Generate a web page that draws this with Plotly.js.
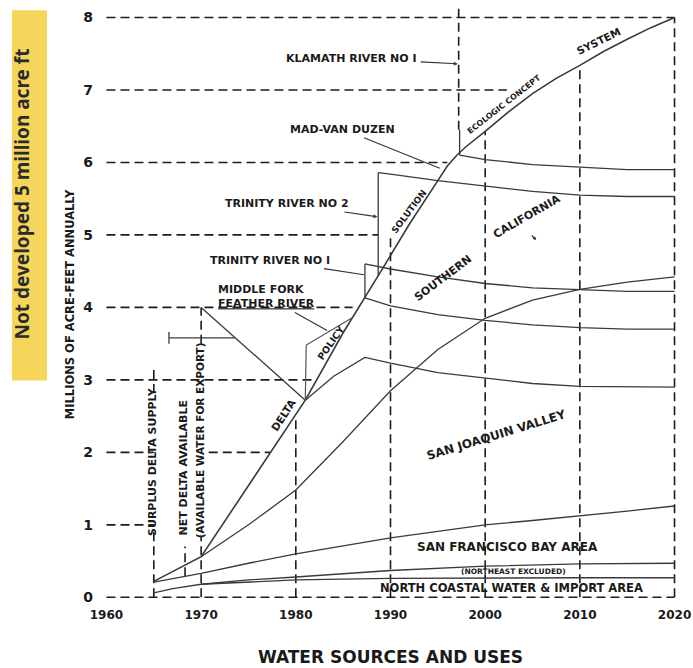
<!DOCTYPE html>
<html><head><meta charset="utf-8">
<script src="https://cdn.plot.ly/plotly-3.0.1.min.js"></script>
<style>html,body{margin:0;padding:0;background:#fff}#chart{width:693px;height:668px}</style>
</head><body><div id="chart"></div>
<script>
// ---- tick labels ----
const xTickYears = [1960, 1970, 1980, 1990, 2000, 2010, 2020];
const yTickValues = [0, 1, 2, 3, 4, 5, 6, 7, 8];

// ---- main envelope: Delta / Policy / Solution / Ecologic concept / System ----
const mainYears = [1965, 1970, 1981, 1985, 1989, 1992, 1995, 1996, 1997, 1998, 2000, 2002.5, 2005, 2007.5, 2010, 2012.5, 2015, 2017.5, 2020];
const mainVals  = [0.22, 0.56, 2.72, 3.65, 4.5, 5.15, 5.75, 5.95, 6.1, 6.22, 6.43, 6.7, 6.95, 7.16, 7.34, 7.53, 7.7, 7.86, 8.0];

// ---- Southern California lower boundary (rising) ----
const socalYears = [1970, 1975, 1980, 1985, 1990, 1995, 2000, 2005, 2010, 2015, 2020];
const socalVals  = [0.56, 1.0, 1.48, 2.15, 2.85, 3.42, 3.85, 4.1, 4.25, 4.35, 4.42];

// ---- San Joaquin Valley upper boundary ----
const sjYears = [1981, 1984, 1987.3, 1990, 1995, 2000, 2005, 2010, 2015, 2020];
const sjVals  = [2.72, 3.05, 3.31, 3.23, 3.1, 3.02, 2.95, 2.91, 2.9, 2.9];

// ---- Middle Fork Feather River increment ----
const featherYears = [1987.3, 1990, 1995, 2000, 2005, 2010, 2015, 2020];
const featherVals  = [4.13, 4.02, 3.9, 3.82, 3.76, 3.72, 3.7, 3.7];
const featherDiagYears = [1970, 1981];
const featherDiagVals  = [4.0, 2.72];
const bracketYears = [1966.6, 1973.6];
const bracketVals  = [3.58, 3.58];
const bracketTickYears = [1966.6, 1966.6];
const bracketTickVals  = [3.5, 3.66];

// ---- Policy polygon ----
const policyYears = [1981, 1981.1, 1986];
const policyVals  = [2.72, 3.48, 3.86];

// ---- Trinity River No 1 ----
const trin1StepYears = [1987.3, 1987.3];
const trin1StepVals  = [4.13, 4.6];
const trin1Years = [1987.3, 1990, 1995, 2000, 2005, 2010, 2015, 2020];
const trin1Vals  = [4.6, 4.53, 4.42, 4.33, 4.27, 4.24, 4.22, 4.22];

// ---- Trinity River No 2 ----
const trin2StepYears = [1988.7, 1988.7];
const trin2StepVals  = [4.44, 5.86];
const trin2Years = [1988.7, 1990, 1995, 2000, 2005, 2010, 2015, 2020];
const trin2Vals  = [5.86, 5.84, 5.75, 5.67, 5.6, 5.55, 5.53, 5.53];

// ---- Klamath River No 1 ----
const klamStepYears = [1997.3, 1997.3];
const klamStepVals  = [6.1, 6.45];
const klamYears = [1997.3, 2000, 2005, 2010, 2015, 2020];
const klamVals  = [6.1, 6.04, 5.97, 5.93, 5.9, 5.9];

// ---- San Francisco Bay Area upper boundary ----
const sfYears = [1965, 1970, 1975, 1980, 1985, 1990, 1995, 2000, 2005, 2010, 2015, 2020];
const sfVals  = [0.21, 0.33, 0.47, 0.6, 0.71, 0.82, 0.91, 1.0, 1.06, 1.12, 1.19, 1.26];

// ---- excluded band / North Coastal ----
const exclTopYears = [1965, 1967, 1970, 1975, 1980, 1985, 1990, 2000, 2010, 2020];
const exclTopVals  = [0.06, 0.12, 0.18, 0.24, 0.28, 0.33, 0.37, 0.43, 0.46, 0.47];
const exclBotYears = [1970, 1975, 1980, 1990, 2000, 2010, 2020];
const exclBotVals  = [0.18, 0.21, 0.24, 0.26, 0.27, 0.27, 0.27];

// ---- dashed guide lines ----
const hGuideLevels = [8, 7, 6, 5, 4, 3, 2, 2, 1, 0];
const hGuideFrom   = [1960, 1960, 1960, 1960, 1960, 1960, 1960, 1970.8, 1960, 1960];
const hGuideTo     = [2020, 2002.3, 1996, 1988.7, 1986, 1982, 1965, 1977.3, 1965, 2020];
const vGuideYears  = [1965, 1965, 1968.3, 1970, 1970, 1980, 1990, 2000, 2010, 2020, 1997.2];
const vGuideFrom   = [0, 2.82, 0.29, 0, 3.5, 0, 0, 0, 0, 0, 6.45];
const vGuideTo     = [0.95, 3.2, 0.7, 0.85, 4.0, 2.5, 5.0, 6.43, 7.34, 8.0, 8.17];

// ---------------------------------------------------------------
const CURVE = '#3a3a3a';
const GUIDE = '#1c1c1c';
const FAM = 'DejaVu Sans, Liberation Sans, sans-serif';

function line(xs, ys, width, color, dash) {
  return {type: 'scatter', mode: 'lines', x: xs, y: ys,
    line: {color: color, width: width, dash: dash || 'solid'},
    hoverinfo: 'skip', showlegend: false};
}
function segs(keys, from, to, horizontal) {
  const xs = [], ys = [];
  for (let i = 0; i < keys.length; i++) {
    if (horizontal) { xs.push(from[i], to[i], null); ys.push(keys[i], keys[i], null); }
    else { xs.push(keys[i], keys[i], null); ys.push(from[i], to[i], null); }
  }
  return {xs, ys};
}
const hg = segs(hGuideLevels, hGuideFrom, hGuideTo, true);
const vg = segs(vGuideYears, vGuideFrom, vGuideTo, false);

const traces = [
  line(hg.xs, hg.ys, 1.6, GUIDE, '9px,5px'),
  line(vg.xs, vg.ys, 1.6, GUIDE, '9px,5px'),
  line(mainYears, mainVals, 1.6, CURVE),
  line(socalYears, socalVals, 1.3, CURVE),
  line(sjYears, sjVals, 1.3, CURVE),
  line(featherYears, featherVals, 1.3, CURVE),
  line(featherDiagYears, featherDiagVals, 1.3, CURVE),
  line(bracketYears, bracketVals, 1.3, CURVE),
  line(bracketTickYears, bracketTickVals, 1.3, CURVE),
  line(policyYears, policyVals, 1.2, '#555'),
  line(trin1StepYears, trin1StepVals, 1.3, CURVE),
  line(trin1Years, trin1Vals, 1.3, CURVE),
  line(trin2StepYears, trin2StepVals, 1.3, CURVE),
  line(trin2Years, trin2Vals, 1.3, CURVE),
  line(klamStepYears, klamStepVals, 1.3, CURVE),
  line(klamYears, klamVals, 1.3, CURVE),
  line(sfYears, sfVals, 1.3, CURVE),
  line(exclTopYears, exclTopVals, 1.3, CURVE),
  line(exclBotYears, exclBotVals, 1.3, CURVE)
];

function font(size, weight) { return {family: FAM, size: size, color: '#1a1a1a', weight: weight || 'bold'}; }
function lab(text, x, y, angle, size) {
  return {text: text, x: x, y: y, xref: 'x', yref: 'y', showarrow: false,
    textangle: angle || 0, font: font(size || 11), xanchor: 'center', yanchor: 'middle'};
}
function leader(text, x, y, ax, ay, head, size) {
  return {text: text, x: x, y: y, ax: ax, ay: ay, xref: 'x', yref: 'y', axref: 'x', ayref: 'y',
    showarrow: true, arrowhead: head, arrowsize: 0.7, arrowwidth: 1.1, arrowcolor: '#333',
    standoff: 0, startstandoff: 2, font: font(size || 11), align: 'left'};
}

const annotations = [
  leader('KLAMATH RIVER NO I', 1997.1, 7.36, 1985.9, 7.44, 2),
  leader('MAD-VAN DUZEN', 1995.2, 5.92, 1984.9, 6.46, 0),
  leader('TRINITY RIVER NO 2', 1988.6, 5.25, 1979.1, 5.43, 2),
  leader('TRINITY RIVER NO I', 1987.2, 4.45, 1977.3, 4.65, 0),
  leader('MIDDLE FORK<br><u>FEATHER RIVER</u>', 1983.3, 3.68, 1976.9, 4.15, 0),
  lab('DELTA', 1978.7, 2.51, -57, 10.5),
  lab('POLICY', 1983.7, 3.52, -55, 9.5),
  lab('SOLUTION', 1992.0, 5.33, -53, 9),
  lab('ECOLOGIC CONCEPT', 2002.0, 6.8, -38, 8),
  lab('SYSTEM', 2012.0, 7.67, -26, 10.5),
  lab('SOUTHERN', 1995.5, 4.4, -37, 11),
  lab('CALIFORNIA', 2004.4, 5.26, -30, 11),
  {text: '', x: 2005.4, y: 4.93, xref: 'x', yref: 'y', ax: -6, ay: -6, showarrow: true,
   arrowhead: 2, arrowsize: 0.6, arrowwidth: 1.2, arrowcolor: '#333'},
  lab('SAN JOAQUIN VALLEY', 2001.2, 2.24, -17, 12),
  lab('SAN FRANCISCO BAY AREA', 2002.4, 0.69, 0, 12),
  lab('(NORTHEAST EXCLUDED)', 2003.0, 0.355, 0, 7.5),
  lab('NORTH COASTAL WATER & IMPORT AREA', 2002.8, 0.125, 0, 11.5),
  lab('SURPLUS DELTA SUPPLY', 1964.8, 1.88, -90, 11),
  lab('NET DELTA AVAILABLE', 1968.1, 1.78, -90, 11),
  lab('(AVAILABLE WATER FOR EXPORT)', 1969.9, 2.17, -90, 10.5),
  {text: 'Not developed 5 million acre ft', xref: 'paper', yref: 'paper', x: -0.1272, y: 0.683,
   showarrow: false, textangle: -90, xanchor: 'center', yanchor: 'middle',
   font: {family: 'Noto Sans, Open Sans, sans-serif', size: 19, color: '#2a2a2a', weight: 'bold'}}
];

const layout = {
  width: 693, height: 668,
  margin: {l: 97, r: 9, t: 3, b: 62},
  paper_bgcolor: '#fff', plot_bgcolor: '#fff',
  showlegend: false,
  xaxis: {range: [1959, 2021], tickvals: xTickYears, ticktext: xTickYears.map(String),
    showgrid: false, zeroline: false, showline: false, ticks: '', automargin: false,
    ticklabeloverflow: 'allow',
    tickfont: font(12), fixedrange: true,
    title: {text: 'WATER SOURCES AND USES', font: font(17), standoff: 30}},
  yaxis: {range: [-0.12, 8.2], tickvals: yTickValues, ticktext: yTickValues.map(String),
    showgrid: false, zeroline: false, showline: false, ticks: '', automargin: false,
    tickfont: font(14), ticklabelstandoff: 3, fixedrange: true,
    title: {text: 'MILLIONS OF ACRE-FEET ANNUALLY', font: font(11.5), standoff: 6}},
  shapes: [{type: 'rect', xref: 'paper', yref: 'paper', x0: -0.1448, x1: -0.0852, y0: 0.374, y1: 0.988,
    fillcolor: '#F6D65A', line: {width: 0}, layer: 'below'}],
  annotations: annotations
};

Plotly.newPlot('chart', traces, layout, {staticPlot: true, displayModeBar: false});
</script></body></html>
